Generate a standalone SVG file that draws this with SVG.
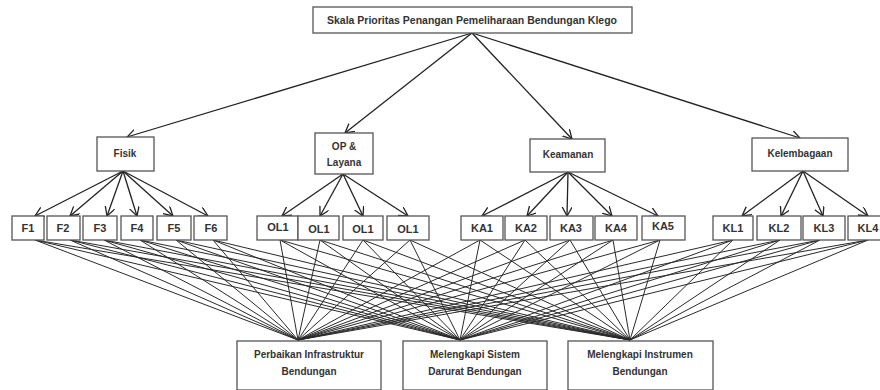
<svg xmlns="http://www.w3.org/2000/svg" width="880" height="390" viewBox="0 0 880 390">
<defs>
<marker id="arr" markerUnits="userSpaceOnUse" markerWidth="12" markerHeight="12" refX="9" refY="5" orient="auto">
<path d="M0,0 L9,5 L0,10" fill="none" stroke="#222" stroke-width="1.3"/>
</marker>
<style>
.box{fill:#fff;stroke:#555;stroke-width:1.3}
.t{font-family:"Liberation Sans",Arial,sans-serif;font-weight:bold;font-size:10px;fill:#333;text-anchor:middle;dominant-baseline:central}
.s{font-size:11px}
.r{font-size:10.5px}
.a{stroke:#222;stroke-width:1.3;fill:none;marker-end:url(#arr)}
.c{stroke:#2a2a2a;stroke-width:1;fill:none}
</style>
</defs>
<rect width="880" height="390" fill="#fff"/>
<g id="connectors">
<line class="a" x1="472" y1="33" x2="127" y2="137"/>
<line class="a" x1="472" y1="33" x2="345" y2="133"/>
<line class="a" x1="472" y1="33" x2="572" y2="139"/>
<line class="a" x1="472" y1="33" x2="800" y2="138"/>
<line class="a" x1="123" y1="171" x2="35" y2="216"/>
<line class="a" x1="123" y1="171" x2="70" y2="216"/>
<line class="a" x1="123" y1="171" x2="107" y2="216"/>
<line class="a" x1="123" y1="171" x2="137" y2="216"/>
<line class="a" x1="123" y1="171" x2="173" y2="216"/>
<line class="a" x1="123" y1="171" x2="208" y2="216"/>
<line class="a" x1="343" y1="174" x2="282" y2="216"/>
<line class="a" x1="343" y1="174" x2="320" y2="216"/>
<line class="a" x1="343" y1="174" x2="363" y2="216"/>
<line class="a" x1="343" y1="174" x2="408" y2="216"/>
<line class="a" x1="568" y1="172" x2="482" y2="216"/>
<line class="a" x1="568" y1="172" x2="527" y2="216"/>
<line class="a" x1="568" y1="172" x2="567" y2="216"/>
<line class="a" x1="568" y1="172" x2="612" y2="216"/>
<line class="a" x1="568" y1="172" x2="658" y2="216"/>
<line class="a" x1="803" y1="171" x2="742" y2="216"/>
<line class="a" x1="803" y1="171" x2="781" y2="216"/>
<line class="a" x1="803" y1="171" x2="823" y2="216"/>
<line class="a" x1="803" y1="171" x2="868" y2="216"/>
<path class="c" d="M35,240L298,340M35,240L460,340M35,240L630,340
M70,240L298,340M70,240L460,340M70,240L630,340
M104,240L298,340M104,240L460,340M104,240L630,340
M140,240L298,340M140,240L460,340M140,240L630,340
M176,240L298,340M176,240L460,340M176,240L630,340
M213,240L298,340M213,240L460,340M213,240L630,340
M280,240L298,340M280,240L460,340M280,240L630,340
M320,240L298,340M320,240L460,340M320,240L630,340
M363,240L298,340M363,240L460,340M363,240L630,340
M410,240L298,340M410,240L460,340M410,240L630,340
M480,240L298,340M480,240L460,340M480,240L630,340
M525,240L298,340M525,240L460,340M525,240L630,340
M570,240L298,340M570,240L460,340M570,240L630,340
M613,240L298,340M613,240L460,340M613,240L630,340
M660,240L298,340M660,240L460,340M660,240L630,340
M733,240L298,340M733,240L460,340M733,240L630,340
M780,240L298,340M780,240L460,340M780,240L630,340
M820,240L298,340M820,240L460,340M820,240L630,340
M868,240L298,340M868,240L460,340M868,240L630,340"/>
</g>
<g id="n-root"><rect class="box" x="313" y="7" width="319" height="26"/><text class="t r" x="472" y="20">Skala Prioritas Penangan Pemeliharaan Bendungan Klego</text></g>
<g id="n-fisik"><rect class="box" x="97" y="137" width="57" height="34"/><text class="t" x="125" y="153">Fisik</text></g>
<g id="n-op"><rect class="box" x="315" y="133" width="58" height="41"/><text class="t" x="344" y="146">OP &amp;</text><text class="t" x="344" y="162">Layana</text></g>
<g id="n-keamanan"><rect class="box" x="530" y="139" width="75" height="33"/><text class="t" x="568" y="154">Keamanan</text></g>
<g id="n-kelembagaan"><rect class="box" x="752" y="138" width="96" height="33"/><text class="t" x="800" y="153">Kelembagaan</text></g>
<g id="n-f1"><rect class="box" x="12" y="216" width="32" height="24"/><text class="t s" x="28" y="228">F1</text></g>
<g id="n-f2"><rect class="box" x="47" y="216" width="33" height="24"/><text class="t s" x="63" y="228">F2</text></g>
<g id="n-f3"><rect class="box" x="83" y="216" width="34" height="24"/><text class="t s" x="100" y="228">F3</text></g>
<g id="n-f4"><rect class="box" x="121" y="216" width="32" height="24"/><text class="t s" x="137" y="228">F4</text></g>
<g id="n-f5"><rect class="box" x="157" y="216" width="34" height="24"/><text class="t s" x="174" y="228">F5</text></g>
<g id="n-f6"><rect class="box" x="194" y="216" width="33" height="24"/><text class="t s" x="211" y="228">F6</text></g>
<g id="n-ol1a"><rect class="box" x="257" y="216" width="41" height="24"/><text class="t s" x="278" y="227">OL1</text></g>
<g id="n-ol1b"><rect class="box" x="298" y="216" width="41" height="24"/><text class="t s" x="319" y="229">OL1</text></g>
<g id="n-ol1c"><rect class="box" x="343" y="216" width="40" height="24"/><text class="t s" x="363" y="229">OL1</text></g>
<g id="n-ol1d"><rect class="box" x="387" y="216" width="42" height="24"/><text class="t s" x="408" y="229">OL1</text></g>
<g id="n-ka1"><rect class="box" x="461" y="216" width="42" height="24"/><text class="t s" x="482" y="228">KA1</text></g>
<g id="n-ka2"><rect class="box" x="505" y="216" width="42" height="24"/><text class="t s" x="526" y="228">KA2</text></g>
<g id="n-ka3"><rect class="box" x="550" y="216" width="43" height="24"/><text class="t s" x="571" y="228">KA3</text></g>
<g id="n-ka4"><rect class="box" x="595" y="216" width="42" height="24"/><text class="t s" x="616" y="228">KA4</text></g>
<g id="n-ka5"><rect class="box" x="642" y="216" width="43" height="24"/><text class="t s" x="663" y="226">KA5</text></g>
<g id="n-kl1"><rect class="box" x="713" y="216" width="40" height="24"/><text class="t s" x="733" y="228">KL1</text></g>
<g id="n-kl2"><rect class="box" x="757" y="216" width="44" height="24"/><text class="t s" x="779" y="228">KL2</text></g>
<g id="n-kl3"><rect class="box" x="803" y="216" width="42" height="24"/><text class="t s" x="824" y="228">KL3</text></g>
<g id="n-kl4"><rect class="box" x="848" y="216" width="36" height="24"/><text class="t s" x="868" y="228">KL4</text></g>
<g id="n-perbaikan"><rect class="box" x="237" y="341" width="144" height="49"/><text class="t" x="309" y="354">Perbaikan Infrastruktur</text><text class="t" x="309" y="371">Bendungan</text></g>
<g id="n-sistem"><rect class="box" x="403" y="341" width="144" height="49"/><text class="t" x="475" y="354">Melengkapi Sistem</text><text class="t" x="475" y="371">Darurat Bendungan</text></g>
<g id="n-instrumen"><rect class="box" x="568" y="341" width="145" height="49"/><text class="t" x="640" y="354">Melengkapi Instrumen</text><text class="t" x="640" y="371">Bendungan</text></g>
</svg>
